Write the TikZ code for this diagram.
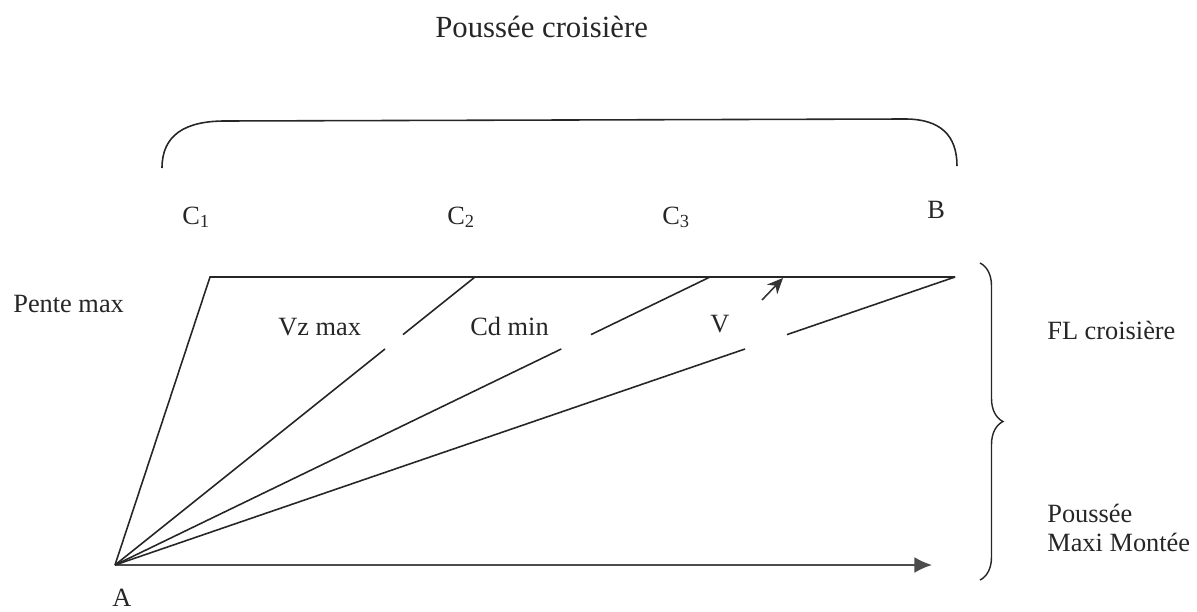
\documentclass[tikz,border=0pt]{standalone}
\usepackage{fontspec}
\setmainfont{Liberation Serif}
\usetikzlibrary{arrows.meta,decorations.pathreplacing}

\begin{document}
\begin{tikzpicture}[
  x=0.02cm, y=-0.02cm,
  lbl/.style={font=\fontsize{15}{17}\selectfont, inner sep=0pt, anchor=base west, text=black!85},
  line/.style={line width=0.9pt, black!85},
  arrow/.style={line width=0.9pt, black!70, -{Latex[length=10pt,width=9pt]}},
  small arrow/.style={line width=0.9pt, black!80, -{Stealth[length=9pt,width=8pt]}},
]
  \useasboundingbox (0,0) rectangle (1197,612);

  % Title and bracket
  \node[lbl, font=\fontsize{17.5}{20}\selectfont] (title) at (435,37) {Poussée croisière};
  \coordinate (brl) at (162,168);
  \coordinate (brr) at (957,166);
  \draw[line] (brl) .. controls (162,135) and (185,121) .. (225,121)
    -- (905,119) .. controls (940,119) and (957,135) .. (brr);

  % Top labels
  \node[lbl] (c1lab) at (182,224) {C\textsubscript{1}};
  \node[lbl] (c2lab) at (447,224) {C\textsubscript{2}};
  \node[lbl] (c3lab) at (662,224) {C\textsubscript{3}};
  \node[lbl] (blab) at (927,218) {B};

  % Points
  \coordinate (A) at (115,565);
  \coordinate (pente) at (210,277);
  \coordinate (c2) at (475,277);
  \coordinate (c3) at (710,277);
  \coordinate (b) at (955,277);
  \coordinate (end) at (932,565);

  % Outline
  \draw[line] (A) -- (pente) -- (b);
  \draw[arrow] (A) -- (end);

  % Rays, cut where the labels sit
  \foreach \p/\g in {c2/vz, c3/cd, b/v} {
    \path (A) -- (\p) coordinate[pos=0.75] (\g1) coordinate[pos=0.8] (\g2);
    \draw[line] (A) -- (\g1);
    \draw[line] (\g2) -- (\p);
  }

  % Ray labels
  \node[lbl] (vzlab) at (278,335) {Vz max};
  \node[lbl] (cdlab) at (470,335) {Cd min};
  \node[lbl] (vlab) at (710,332) {V};
  \coordinate (vtail) at (762,300);
  \coordinate (vtip) at (783,278);
  \draw[small arrow] (vtail) -- (vtip);

  % Side labels
  \node[lbl] (pente lab) at (13,312) {Pente max};
  \node[lbl] (alab) at (112,606) {A};

  % Right brace
  \coordinate (bt) at (980,263);
  \coordinate (bb) at (980,580);
  \draw[line, line width=0.8pt, decorate, decoration={brace, amplitude=0.46cm}] (bt) -- (bb);
  \node[lbl] (fl) at (1047,339) {FL croisière};
  \node[lbl, anchor=west, align=left] (pmm) at (1047,528) {Poussée\\Maxi Montée};
\end{tikzpicture}
\end{document}
